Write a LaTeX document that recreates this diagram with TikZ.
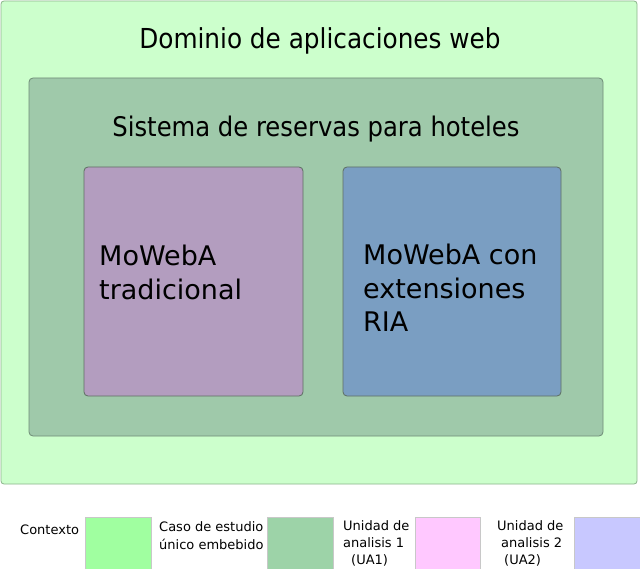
\documentclass[tikz,border=0pt]{standalone}
\usepackage{fontspec}
\setmainfont{DejaVu Sans}
\newfontfamily\condfont{DejaVu Sans Condensed}
\definecolor{ctxfill}{HTML}{CCFFCC}
\definecolor{ctxdraw}{HTML}{8CB48C}
\definecolor{casefill}{HTML}{9FC9AA}
\definecolor{casedraw}{HTML}{6F8C77}
\definecolor{uaonefill}{HTML}{B39DBF}
\definecolor{uatwofill}{HTML}{7A9EC2}
\definecolor{innerdraw}{HTML}{5E6E62}
\definecolor{lgA}{HTML}{A0FFA0}
\definecolor{lgB}{HTML}{9DD3A8}
\definecolor{lgC}{HTML}{FFC8FF}
\definecolor{lgD}{HTML}{C8C8FF}
\definecolor{lgdraw}{HTML}{C8C8C8}
\tikzset{
  px/.style={x=1pt,y=-1pt},
  region/.style={rounded corners=3pt,line width=0.8pt},
  swatch/.style={draw=lgdraw,line width=0.5pt},
  headtext/.style={font=\condfont\fontsize{27.5}{33}\selectfont,inner sep=0pt},
  bigtext/.style={font=\fontsize{27}{33.8}\selectfont,inner sep=0pt},
  smalltext/.style={font=\fontsize{13}{17.5}\selectfont,inner sep=0pt},
}
\begin{document}
\begin{tikzpicture}[px]
\useasboundingbox (0,0) rectangle (640,569);
\fill[white] (0,0) rectangle (640,569);
% regions
\draw[region,fill=ctxfill,draw=ctxdraw] (1,1) rectangle (637,484);
\node[headtext,anchor=base] (title) at (320,49) {Dominio de aplicaciones web};
\draw[region,rounded corners=4pt,fill=casefill,draw=casedraw] (29,78) rectangle (603,436);
\node[headtext,font=\condfont\fontsize{27}{33}\selectfont,anchor=base] (case) at (316,137) {Sistema de reservas para hoteles};
\draw[region,rounded corners=4pt,fill=uaonefill,draw=innerdraw] (84,167) rectangle (303,396);
\draw[region,rounded corners=4pt,fill=uatwofill,draw=innerdraw] (343,167) rectangle (561,396);
\node[bigtext,anchor=north west,align=left] (ua1) at (99,244.5) {MoWebA\\tradicional};
\node[bigtext,anchor=north west,align=left] (ua2) at (363,243.5) {MoWebA con\\extensiones\\RIA};
% legend
\node[smalltext,anchor=west] (lctx) at (20,530) {Contexto};
\draw[swatch,fill=lgA] (85,517) rectangle (151,569);
\node[smalltext,anchor=north west,align=left] (lcase) at (159,521.5) {Caso de estudio\\único embebido};
\draw[swatch,fill=lgB] (267,517) rectangle (333,569);
\node[smalltext,font=\fontsize{13}{16.8}\selectfont,anchor=north west,align=left] (lua1) at (343,520.5) {Unidad de\\analisis 1\\\hspace*{8pt}(UA1)};
\draw[swatch,fill=lgC] (415,517) rectangle (480,569);
\node[smalltext,font=\fontsize{13}{16.8}\selectfont,anchor=north west,align=left] (lua2) at (497,520.5) {Unidad de\\\hspace*{4pt}analisis 2\\\hspace*{7pt}(UA2)};
\draw[swatch,fill=lgD] (574,517) rectangle (640,569);
\end{tikzpicture}
\end{document}
